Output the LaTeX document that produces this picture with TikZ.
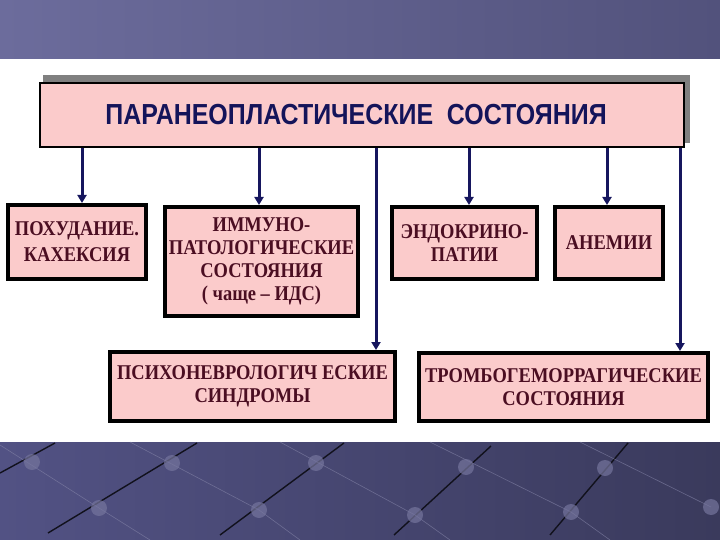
\documentclass[tikz,border=0pt]{standalone}
\usepackage{fontspec}
\setmainfont{Liberation Serif}[FakeStretch=0.88]
\newfontfamily\headfont[FakeStretch=0.86]{Liberation Sans}
\usepackage{xcolor}
\usepackage{tikz}
\usetikzlibrary{arrows.meta,positioning,calc}
\definecolor{BandLeft}{HTML}{6C6C9C}
\definecolor{BandRight}{HTML}{52527C}
\definecolor{FootLeft}{HTML}{525284}
\definecolor{FootRight}{HTML}{3A3A5C}
\definecolor{BoxPink}{HTML}{FBCBCB}
\definecolor{BoxText}{HTML}{4B0E22}
\definecolor{HeadNavy}{HTML}{14145A}
\definecolor{ArrowNavy}{HTML}{16165E}

\begin{document}
\begin{tikzpicture}[x=1pt, y=-1pt, every node/.style={inner sep=0pt}, head/.style={draw=black, line width=2pt, fill=BoxPink, align=center, text=HeadNavy, font=\headfont\bfseries\fontsize{29}{31}\selectfont}, box/.style={draw=black, line width=4pt, fill=BoxPink, align=center, text=BoxText, font=\bfseries\fontsize{21}{23}\selectfont}, arrow/.style={-{Triangle[length=8pt,width=9pt]}, line width=3pt, color=ArrowNavy}, footline/.style={line width=1.4pt, color=black!70!FootRight}, footdot/.style={fill=FootLeft!80!white, opacity=0.7}]
\useasboundingbox (0,0) rectangle (720,540);
\shade[left color=BandLeft, right color=BandRight] (0,0) rectangle (720,59);
\shade[left color=FootLeft, right color=FootRight] (0,442) rectangle (720,540);
\draw[footline] (0,473)--(55,443); \draw[footline] (48,533)--(197,443); \draw[footline] (220,535)--(344,443); \draw[footline] (394,535)--(491,446); \draw[footline] (550,535)--(628,443);
\draw[FootLeft!70!white, line width=0.6pt, opacity=0.6] (0,445)--(99,508)--(150,540); \draw[FootLeft!70!white, line width=0.6pt, opacity=0.6] (130,442)--(259,510)--(300,540); \draw[FootLeft!70!white, line width=0.6pt, opacity=0.6] (280,442)--(415,515)--(450,540); \draw[FootLeft!70!white, line width=0.6pt, opacity=0.6] (430,442)--(571,512)--(610,540); \draw[FootLeft!70!white, line width=0.6pt, opacity=0.6] (580,442)--(711,507);
\fill[footdot] (32,462) circle (8); \fill[footdot] (172,463) circle (8); \fill[footdot] (316,463) circle (8); \fill[footdot] (466,467) circle (8); \fill[footdot] (605,468) circle (8); \fill[footdot] (99,508) circle (8); \fill[footdot] (259,510) circle (8); \fill[footdot] (415,515) circle (8); \fill[footdot] (571,512) circle (8); \fill[footdot] (711,507) circle (8);
\fill[black!50] (43,75) rectangle (690,143);
\node[head, minimum width=644pt, minimum height=64pt] (title) at (362,115) {ПАРАНЕОПЛАСТИЧЕСКИЕ\ \ СОСТОЯНИЯ\hspace*{12pt}};
\node[box, minimum width=138pt, minimum height=74pt] (weight) at (77,242) {ПОХУДАНИЕ.\\[3pt]КАХЕКСИЯ};
\node[box, minimum width=193pt, minimum height=109pt] (immune) at (261.5,261.5) {ИММУНО-\\ПАТОЛОГИЧЕСКИЕ\\СОСТОЯНИЯ\\( чаще – ИДС)};
\node[box, minimum width=145pt, minimum height=72pt] (endo) at (464.5,243) {ЭНДОКРИНО-\\ПАТИИ};
\node[box, minimum width=108pt, minimum height=72pt] (anemia) at (609,243) {АНЕМИИ};
\node[box, minimum width=285pt, minimum height=69pt] (neuro) at (252.5,386.5) {ПСИХОНЕВРОЛОГИЧ ЕСКИЕ\\СИНДРОМЫ};
\node[box, minimum width=289pt, minimum height=68pt] (thrombo) at (563.5,387) {ТРОМБОГЕМОРРАГИЧЕСКИЕ\\СОСТОЯНИЯ};
\coordinate (in1) at ([xshift=5pt]weight.north); \coordinate (in2) at ([xshift=-2.5pt]immune.north); \coordinate (in3) at ([xshift=-21pt]neuro.north east); \coordinate (in4) at ([xshift=4.5pt]endo.north); \coordinate (in5) at ([xshift=-2pt]anemia.north); \coordinate (in6) at ([xshift=-30pt]thrombo.north east);
\draw[arrow] (title.south -| in1)--(in1); \draw[arrow] (title.south -| in2)--(in2); \draw[arrow] (title.south -| in3)--(in3); \draw[arrow] (title.south -| in4)--(in4); \draw[arrow] (title.south -| in5)--(in5); \draw[arrow] (title.south -| in6)--(in6);
\end{tikzpicture}
\end{document}
